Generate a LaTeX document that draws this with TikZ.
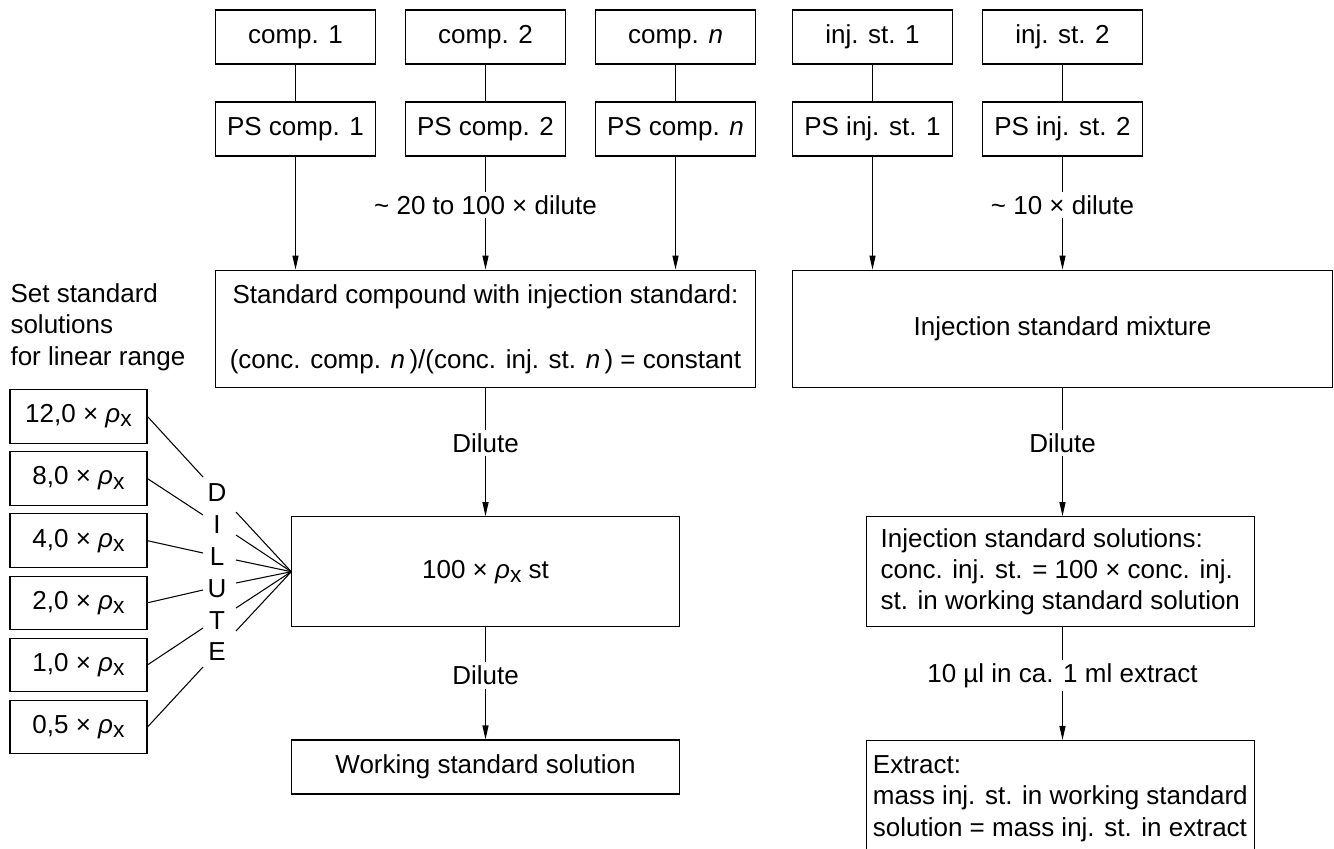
\documentclass[tikz,border=0pt]{standalone}
\usepackage{fontspec}
\setmainfont{Liberation Sans}
\usetikzlibrary{arrows.meta}

\newcommand{\rhox}{\textit{ρ}\raisebox{-0.3ex}{\fontsize{13}{12}\selectfont x}}

\tikzset{
  box/.style={draw, line width=0.6pt, inner sep=0pt, minimum width=3.2cm, minimum height=1.08cm},
  cbox/.style={box, text height=0.8em, text depth=0.08em},
  arr/.style={-{Triangle[length=2.8mm,width=1.2mm]}},
  lbl/.style={fill=white, inner sep=2pt},
}

\begin{document}
\begin{tikzpicture}[x=0.02cm, y=-0.02cm, line width=0.6pt, font=\fontsize{14.8}{17.8}\selectfont]

\useasboundingbox (0,0) rectangle (1334,848);

% top row
\node[cbox] (c1) at (295.5,37) {comp. 1};
\node[cbox] (c2) at (485.5,37) {comp. 2};
\node[cbox] (cn) at (675.5,37) {comp. \textit{n}};
\node[cbox] (i1) at (872.5,37) {inj. st. 1};
\node[cbox] (i2) at (1062.5,37) {inj. st. 2};

\node[cbox] (ps1) at (295.5,129) {PS comp. 1};
\node[cbox] (ps2) at (485.5,129) {PS comp. 2};
\node[cbox] (psn) at (675.5,129) {PS comp. \textit{n}};
\node[cbox] (pi1) at (872.5,129) {PS inj. st. 1};
\node[cbox] (pi2) at (1062.5,129) {PS inj. st. 2};

% mixtures
\node[box, minimum width=10.8cm, minimum height=2.35cm, align=center] (std) at (485.5,328.9)
  {Standard compound with injection standard:\\[19.2pt] (conc. comp. \textit{n}\,)/(conc. inj. st. \textit{n}\,) = constant};
\node[box, minimum width=10.79cm, minimum height=2.35cm] (mix) at (1062.5,328.9) {Injection standard mixture};

\node[box, minimum width=7.75cm, minimum height=2.2cm] (st100) at (485.5,571.7) {100 × \rhox{} st};
\node[cbox, minimum width=7.75cm] (work) at (485.5,767) {Working standard solution};

\node[box, minimum width=7.77cm, minimum height=2.2cm, align=left] (sol) at (1060.3,571.7)
  {Injection standard solutions:\\conc. inj. st. = 100 × conc. inj.\\st. in working standard solution};
\node[box, minimum width=7.77cm, minimum height=2.32cm, align=left] (ext) at (1060.3,798.5)
  {Extract:\\mass inj. st. in working standard\\solution = mass inj. st. in extract};

% linear range
\node[align=left, anchor=west, inner sep=0pt] (set) at (10,327) {Set standard\\solutions\\for linear range};

\node[cbox, minimum width=2.74cm, minimum height=1.07cm] (r1) at (78.5,416.5) {12,0 × \rhox};
\node[cbox, minimum width=2.74cm, minimum height=1.07cm] (r2) at (78.5,478.6) {8,0 × \rhox};
\node[cbox, minimum width=2.74cm, minimum height=1.07cm] (r3) at (78.5,540.7) {4,0 × \rhox};
\node[cbox, minimum width=2.74cm, minimum height=1.07cm] (r4) at (78.5,602.8) {2,0 × \rhox};
\node[cbox, minimum width=2.74cm, minimum height=1.07cm] (r5) at (78.5,664.9) {1,0 × \rhox};
\node[cbox, minimum width=2.74cm, minimum height=1.07cm] (r6) at (78.5,727) {0,5 × \rhox};

\node[align=center, inner sep=0pt, font=\fontsize{14.8}{18.1}\selectfont] (dil) at (217,572.5) {D\\I\\L\\U\\T\\E};

\coordinate (dl1) at (203,477);
\coordinate (dl2) at (203,515);
\coordinate (dl3) at (203,553);
\coordinate (dl4) at (203,590);
\coordinate (dl5) at (203,628);
\coordinate (dl6) at (203,667);
\coordinate (dr1) at (236,512);
\coordinate (dr2) at (236,535);
\coordinate (dr3) at (236,560);
\coordinate (dr4) at (236,583);
\coordinate (dr5) at (236,608);
\coordinate (dr6) at (236,631);

% connectors
\draw (c1) -- (ps1);
\draw (c2) -- (ps2);
\draw (cn) -- (psn);
\draw (i1) -- (pi1);
\draw (i2) -- (pi2);

\draw[arr] (ps1) -- (ps1 |- std.north);
\draw[arr] (ps2) -- (ps2 |- std.north) node[lbl, pos=0.43] {\textasciitilde{} 20 to 100 × dilute};
\draw[arr] (psn) -- (psn |- std.north);
\draw[arr] (pi1) -- (pi1 |- mix.north);
\draw[arr] (pi2) -- (pi2 |- mix.north) node[lbl, pos=0.43] {\textasciitilde{} 10 × dilute};

\draw[arr] (std) -- (std |- st100.north) node[lbl, pos=0.43] {Dilute};
\draw[arr] (st100) -- (st100 |- work.north) node[lbl, pos=0.43] {Dilute};
\draw[arr] (mix) -- (mix |- sol.north) node[lbl, pos=0.43] {Dilute};
\draw[arr] (mix |- sol.south) -- (mix |- ext.north) node[lbl, pos=0.43] {10 µl in ca. 1 ml extract};

\draw (r1.east) -- (dl1);
\draw (r2.east) -- (dl2);
\draw (r3.east) -- (dl3);
\draw (r4.east) -- (dl4);
\draw (r5.east) -- (dl5);
\draw (r6.east) -- (dl6);
\draw (dr1) -- (st100.west);
\draw (dr2) -- (st100.west);
\draw (dr3) -- (st100.west);
\draw (dr4) -- (st100.west);
\draw (dr5) -- (st100.west);
\draw (dr6) -- (st100.west);

\end{tikzpicture}
\end{document}
